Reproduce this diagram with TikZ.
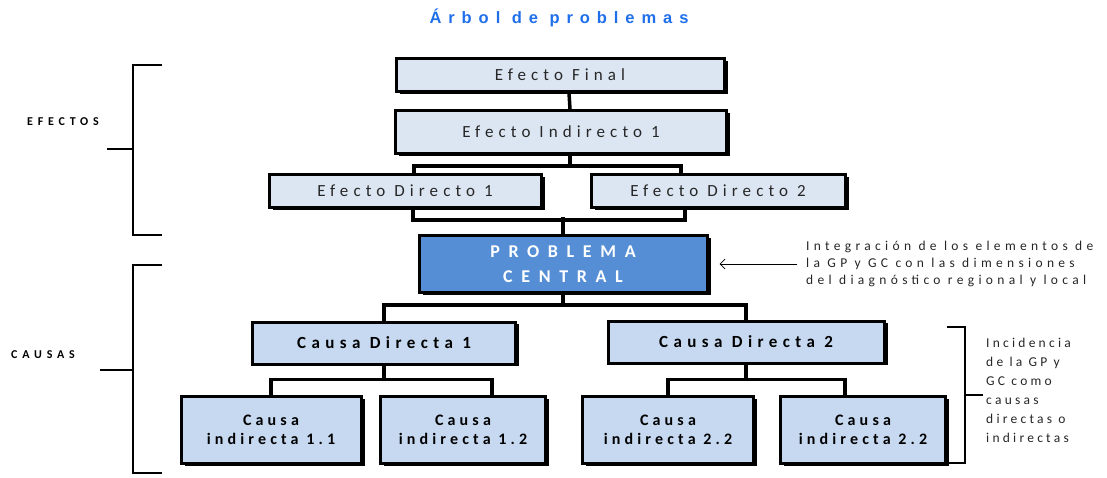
\documentclass[tikz,border=0pt]{standalone}
\usepackage{fontspec}
\setmainfont{Carlito}
\newfontfamily\titlefont{Liberation Sans}
\usetikzlibrary{arrows.meta,shadows}

\definecolor{efcol}{HTML}{DCE6F2}
\definecolor{cacol}{HTML}{C6D9F1}
\definecolor{probcol}{HTML}{558ED5}
\definecolor{titblue}{HTML}{1F6FEB}

\begin{document}
\begin{tikzpicture}[x=1pt,y=-1pt,
    box/.style={draw=black,line width=3pt,inner sep=0pt,align=center,
        drop shadow={shadow xshift=3.5pt,shadow yshift=-2pt,fill=black,opacity=1}},
    efbox/.style={box,fill=efcol,minimum height=33pt,text=black!85,
        font=\fontsize{17}{19}\selectfont\addfontfeature{LetterSpace=30}},
    cabox/.style={box,fill=cacol,minimum height=42pt,
        font=\bfseries\fontsize{17}{19}\selectfont\addfontfeature{LetterSpace=32}},
    cibox/.style={box,fill=cacol,minimum height=67pt,
        font=\bfseries\fontsize{16}{19}\selectfont\addfontfeature{LetterSpace=26}},
    probbox/.style={box,fill=probcol,text=white,minimum width=288pt,minimum height=57pt,
        font=\bfseries\fontsize{18}{25}\selectfont\addfontfeature{LetterSpace=48}},
    link/.style={line width=3.5pt},
    brace/.style={line width=2.5pt},
    notetext/.style={inner sep=0pt,align=left,text=black!85},
    sidelabel/.style={inner sep=0pt,font=\bfseries\fontsize{12}{14}\selectfont\addfontfeature{LetterSpace=40}}
]
\useasboundingbox (0,0) rectangle (1107,477);

% titulo
\node[font=\titlefont\bfseries\fontsize{16.5}{19}\selectfont\addfontfeature{LetterSpace=42},text=titblue] (tit) at (559,18) {Árbol de problemas};

% efectos
\node[efbox,minimum width=328pt] (fin) at (560,75) {Efecto Final};
\node[efbox,minimum width=331pt,minimum height=43pt] (ind) at (561,132) {Efecto Indirecto 1};
\node[efbox,minimum width=272pt] (dir1) at (405,191) {Efecto Directo 1};
\node[efbox,minimum width=254pt] (dir2) at (718,191) {Efecto Directo 2};

% problema
\node[probbox] (prob) at (563,264) {PROBLEMA\\CENTRAL};

% causas
\node[cabox,minimum width=263pt] (cd1) at (384,343) {Causa Directa 1};
\node[cabox,minimum width=276pt] (cd2) at (746,342) {Causa Directa 2};
\node[cibox,minimum width=180pt] (ci11) at (271,430) {Causa\\indirecta 1.1};
\node[cibox,minimum width=165pt] (ci12) at (463,430) {Causa\\indirecta 1.2};
\node[cibox,minimum width=171pt] (ci21) at (668,430) {Causa\\indirecta 2.2};
\node[cibox,minimum width=165pt] (ci22) at (863,430) {Causa\\indirecta 2.2};

% conectores
\draw[link] ([xshift=9pt]fin.south) -- ([xshift=9pt]ind.north);
\draw[link] ([xshift=9pt]ind.south) -- ++(0,11) -| ([xshift=9pt]dir1.north);
\draw[link] ([xshift=9pt]ind.south) -- ++(0,11) -| ([xshift=-37pt]dir2.north);
\draw[link] ([xshift=8pt]dir1.south) -- ++(0,11) -| ([xshift=-33pt]dir2.south);
\draw[link] (prob.north) -- ++(0,-17);
\draw[link] (prob.south) -- ++(0,11) -| (cd1.north);
\draw[link] (prob.south) -- ++(0,11) -| (cd2.north);
\draw[link] (cd1.south) -- ++(0,14) -| (ci11.north);
\draw[link] (cd1.south) -- ++(0,14) -| ([xshift=29pt]ci12.north);
\draw[link] (cd2.south) -- ++(0,15) -| (ci21.north);
\draw[link] (cd2.south) -- ++(0,15) -| ([xshift=-18pt]ci22.north);

% notas
\node[notetext,anchor=west,font=\fontsize{13.5}{17}\selectfont\addfontfeature{LetterSpace=32}] (nota) at (806,264)
    {Integración de los elementos de\\la GP y GC con las dimensiones\\del diagnóstico regional y local};
\draw[line width=0.8pt,-{Straight Barb[length=5pt,width=10pt]}] ([xshift=-9pt]nota.west) -- ([xshift=11pt]prob.east);
\node[notetext,anchor=north west,font=\fontsize{13.5}{19}\selectfont\addfontfeature{LetterSpace=24}] (inc) at (986,338)
    {Incidencia\\de la GP y\\GC como\\causas\\directas o\\indirectas};

% llaves
\draw[brace] (162,65) -| (133,149) -- (107,149) (133,149) |- (162,235);
\draw[brace] (162,265) -| (133,370) -- (100,370) (133,370) |- (162,473);
\draw[brace,line width=1.8pt] (947,327) -| (965,395) -- (983,395) (965,395) |- (947,463);
\node[sidelabel] (efe) at (63,122) {EFECTOS};
\node[sidelabel] (cau) at (43,355) {CAUSAS};

\end{tikzpicture}
\end{document}
